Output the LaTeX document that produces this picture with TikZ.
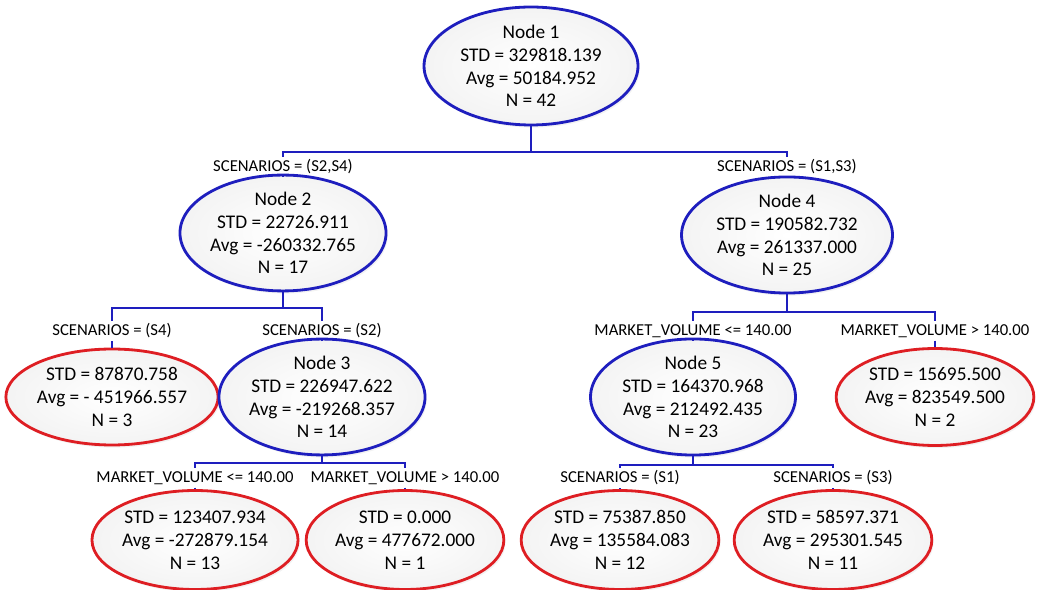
\documentclass[tikz,border=0pt]{standalone}
\usepackage{fontspec}
\setmainfont{Carlito}
\usepackage{tikz}
\usetikzlibrary{shapes.geometric, shadows}
\definecolor{splitblue}{RGB}{30,30,190}
\definecolor{leafred}{RGB}{222,30,35}

\begin{document}
\begin{tikzpicture}[x=0.02cm, y=-0.02cm,
		tnode/.style={ellipse, line width=1.6pt, inner sep=0pt, align=center,
			inner color=white, outer color=gray!9,
			drop shadow={opacity=0.1, shadow xshift=1pt, shadow yshift=-1.5pt},
			font=\fontsize{11}{13}\selectfont},
		split/.style={tnode, draw=splitblue},
		leaf/.style={tnode, draw=leafred},
		cond/.style={font=\fontsize{9.5}{11}\selectfont, inner sep=1.5pt},
		link/.style={draw=splitblue, line width=1.1pt}]
				\useasboundingbox (0,0) rectangle (1037,590);
				
				\coordinate (j1) at (531,152);
				\coordinate (j2) at (283,308);
				\coordinate (j4) at (787,312);
				\coordinate (j3) at (322,463);
				\coordinate (j5) at (693,465);
				
				\node[split, minimum width=4.28cm, minimum height=2.36cm] (n1) at (531,66) {Node 1\\STD = 329818.139\\Avg = 50184.952\\N = 42};
				\node[split, minimum width=4.0cm, minimum height=2.0cm] (n2) at (283,233) {Node 2\\STD = 22726.911\\Avg = -260332.765\\N = 17};
				\node[split, minimum width=4.22cm, minimum height=2.08cm] (n4) at (787,235) {Node 4\\STD = 190582.732\\Avg = 261337.000\\N = 25};
				\node[leaf, minimum width=4.16cm, minimum height=1.92cm] (t1) at (112,397) {STD = 87870.758\\Avg = - 451966.557\\N = 3};
				\node[split, minimum width=3.9cm, minimum height=1.98cm] (n3) at (322,397) {Node 3\\STD = 226947.622\\Avg = -219268.357\\N = 14};
				\node[split, minimum width=4.1cm, minimum height=1.94cm] (n5) at (693,397) {Node 5\\STD = 164370.968\\Avg = 212492.435\\N = 23};
				\node[leaf, minimum width=3.7cm, minimum height=1.94cm] (t2) at (935,397) {STD = 15695.500\\Avg = 823549.500\\N = 2};
				\node[leaf, minimum width=3.84cm, minimum height=1.98cm] (t3) at (195,540) {STD = 123407.934\\Avg = -272879.154\\N = 13};
				\node[leaf, minimum width=3.84cm, minimum height=1.98cm] (t4) at (405,540) {STD = 0.000\\Avg = 477672.000\\N = 1};
				\node[leaf, minimum width=3.74cm, minimum height=1.98cm] (t5) at (620,540) {STD = 75387.850\\Avg = 135584.083\\N = 12};
				\node[leaf, minimum width=3.8cm, minimum height=1.98cm] (t6) at (833,540) {STD = 58597.371\\Avg = 295301.545\\N = 11};
				
				\node[cond] (c2) at (283,167) {SCENARIOS = (S2,S4)};
				\node[cond] (c4) at (787,167) {SCENARIOS = (S1,S3)};
				\node[cond] (ct1) at (112,331) {SCENARIOS = (S4)};
				\node[cond] (c3) at (322,331) {SCENARIOS = (S2)};
				\node[cond] (c5) at (693,331) {MARKET\_VOLUME <= 140.00};
				\node[cond] (ct2) at (935,331) {MARKET\_VOLUME > 140.00};
				\node[cond] (ct3) at (195,478) {MARKET\_VOLUME <= 140.00};
				\node[cond] (ct4) at (405,478) {MARKET\_VOLUME > 140.00};
				\node[cond] (ct5) at (620,478) {SCENARIOS = (S1)};
				\node[cond] (ct6) at (833,478) {SCENARIOS = (S3)};
				
				\draw[link] (n1.south) -- (j1) -| (c2.north);
				\draw[link] (j1) -| (c4.north);
				\draw[link] (c2.south) -- (n2.north);
				\draw[link] (c4.south) -- (n4.north);
				
				\draw[link] (n2.south) -- (j2) -| (ct1.north);
				\draw[link] (j2) -| (c3.north);
				\draw[link] (ct1.south) -- (t1.north);
				\draw[link] (c3.south) -- (n3.north);
				
				\draw[link] (n4.south) -- (j4) -| (c5.north);
				\draw[link] (j4) -| (ct2.north);
				\draw[link] (c5.south) -- (n5.north);
				\draw[link] (ct2.south) -- (t2.north);
				
				\draw[link] (n3.south) -- (j3) -| (ct3.north);
				\draw[link] (j3) -| (ct4.north);
				\draw[link] (ct3.south) -- (t3.north);
				\draw[link] (ct4.south) -- (t4.north);
				
				\draw[link] (n5.south) -- (j5) -| (ct5.north);
				\draw[link] (j5) -| (ct6.north);
				\draw[link] (ct5.south) -- (t5.north);
				\draw[link] (ct6.south) -- (t6.north);
			\end{tikzpicture}
\end{document}
